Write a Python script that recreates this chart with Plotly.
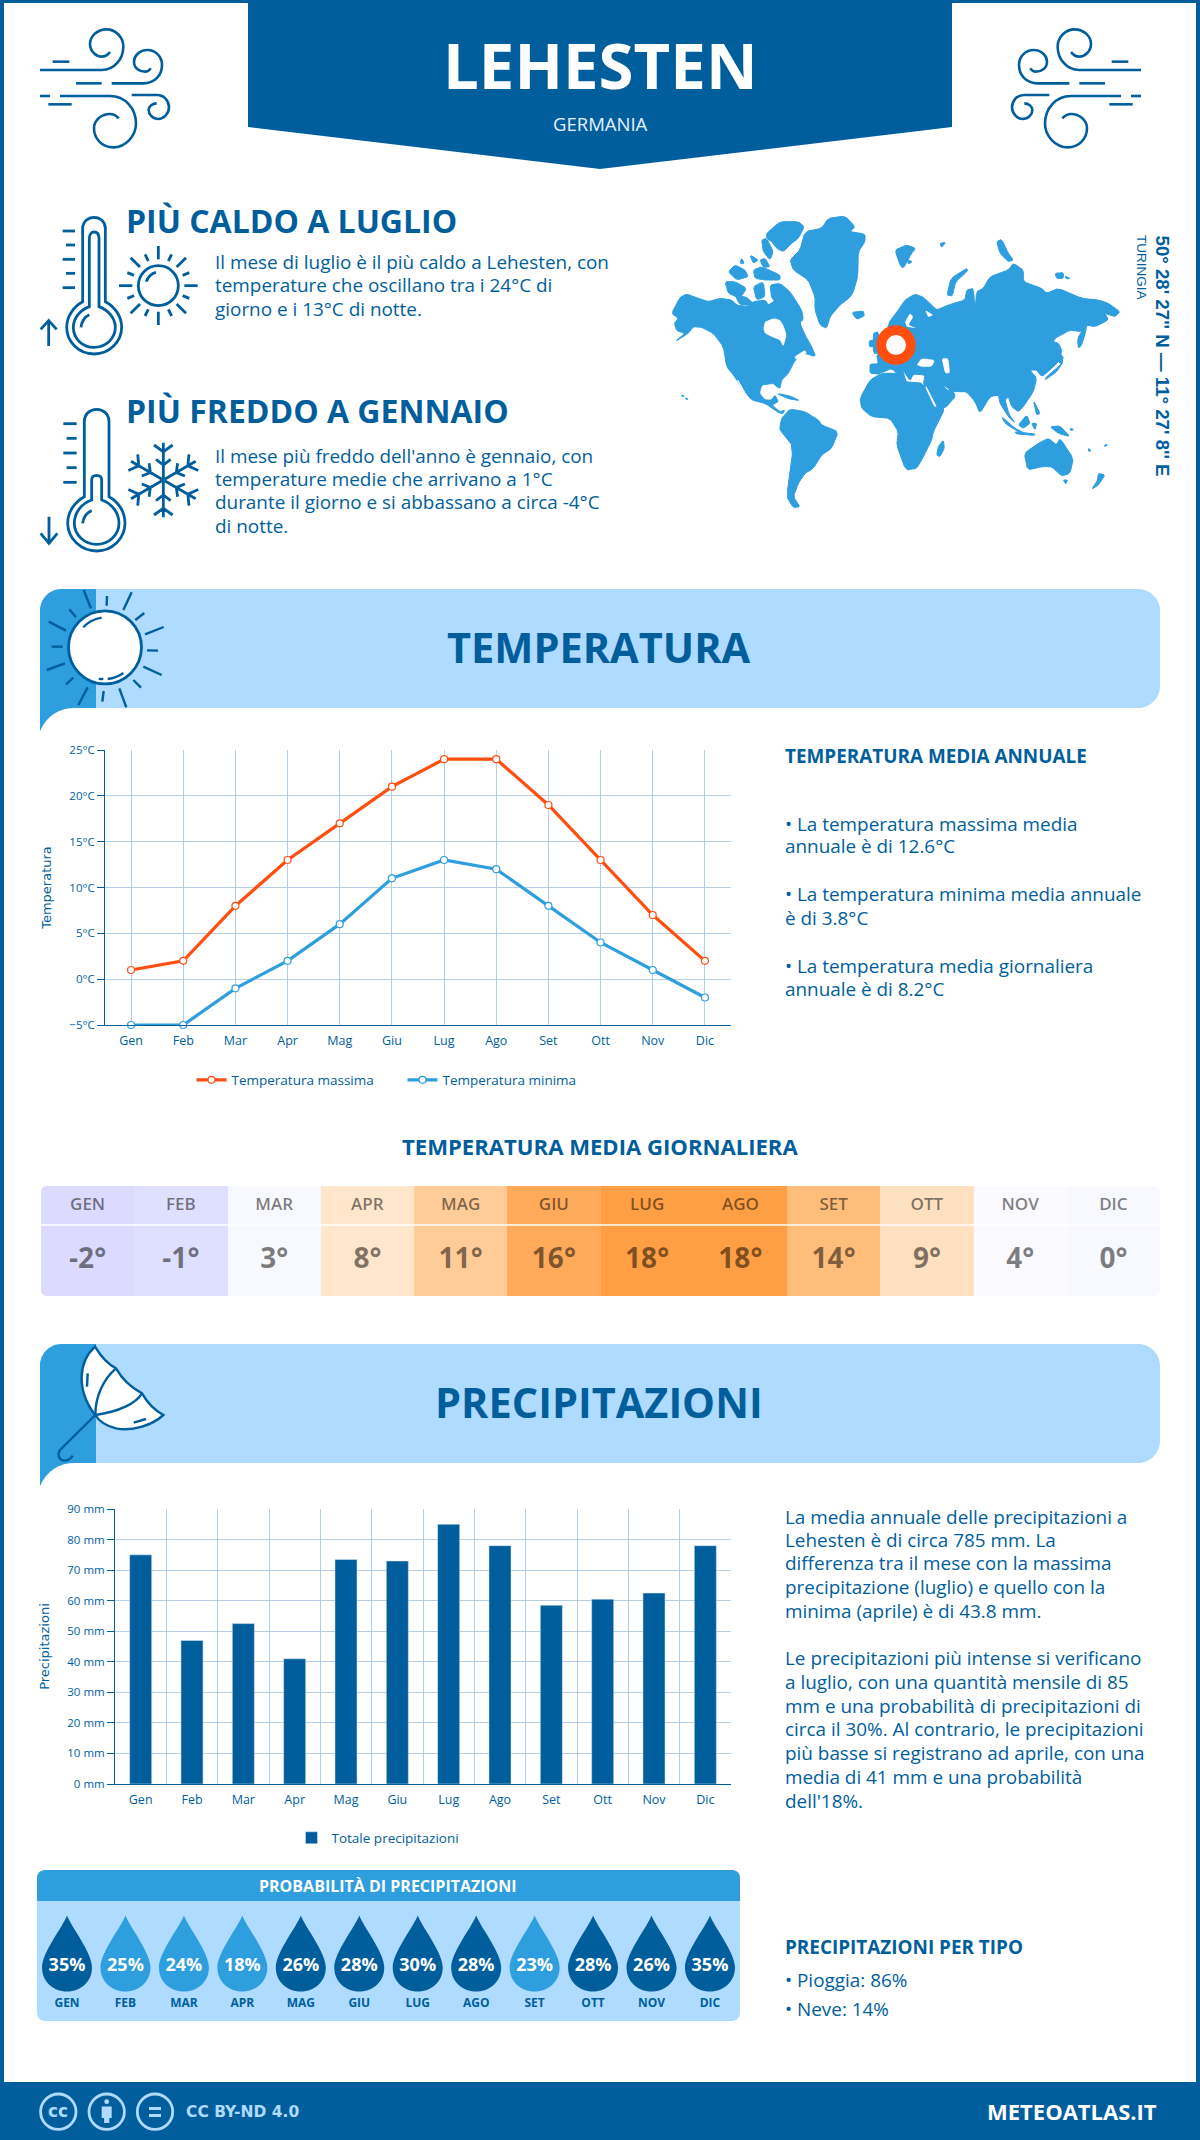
import math
import re
import plotly.graph_objects as go

# chart values
months = ["Gen", "Feb", "Mar", "Apr", "Mag", "Giu", "Lug", "Ago", "Set", "Ott", "Nov", "Dic"]
months_upper = [m.upper() for m in months]
temp_max = [1, 2, 8, 13, 17, 21, 24, 24, 19, 13, 7, 2]
temp_min = [-5, -5, -1, 2, 6, 11, 13, 12, 8, 4, 1, -2]
temp_avg = [-2, -1, 3, 8, 11, 16, 18, 18, 14, 9, 4, 0]
precip_mm = [75, 47, 52.5, 41, 73.5, 73, 85, 78, 58.5, 60.5, 62.5, 78]
precip_prob = [35, 25, 24, 18, 26, 28, 30, 28, 23, 28, 26, 35]

W, H = 1200, 2140
DARK = "#015e9c"
MID = "#2e9ede"
LIGHT = "#aedbff"
ORANGE = "#ff4e0f"
FONT = "Open Sans"
BODY = 18.9

# colours of the daily average table, by temperature
avg_stops = [(-2, "#dcdbff"), (-1, "#dfdfff"), (0, "#f8f8ff"), (3, "#f8f9ff"), (4, "#fafaff"),
             (8, "#ffe6cd"), (9, "#ffe0c0"), (11, "#ffcc99"), (14, "#ffbd7c"), (16, "#ffaa5a"), (18, "#ff9f45")]
avg_scale = [[(t + 2) / 20, c] for t, c in avg_stops]


def dom_x(a, b):
    return [a / W, b / W]


def dom_y(top, bottom):
    return [1 - bottom / H, 1 - top / H]


def zp(d, ox, oy, s=3.0, mirror=None):
    # path drawn in crop coordinates -> page pixels
    out = []
    is_x = True
    for tok in re.findall(r"[A-Za-z]|-?\d+\.?\d*", d):
        if tok.isalpha():
            out.append(tok)
            is_x = True
        else:
            v = float(tok)
            if is_x:
                v = v / s + ox
                if mirror is not None:
                    v = mirror - v
            else:
                v = v / s + oy
            out.append(f"{v:.2f}")
            is_x = not is_x
    return " ".join(out)


def rounded(x0, y0, x1, y1, r, tl=True, tr=True, br=True, bl=True):
    k = r * 0.45
    d = f"M {x0 + (r if tl else 0)} {y0} L {x1 - (r if tr else 0)} {y0} "
    if tr:
        d += f"C {x1 - k} {y0} {x1} {y0 + k} {x1} {y0 + r} "
    d += f"L {x1} {y1 - (r if br else 0)} "
    if br:
        d += f"C {x1} {y1 - k} {x1 - k} {y1} {x1 - r} {y1} "
    d += f"L {x0 + (r if bl else 0)} {y1} "
    if bl:
        d += f"C {x0 + k} {y1} {x0} {y1 - k} {x0} {y1 - r} "
    d += f"L {x0} {y0 + (r if tl else 0)} "
    if tl:
        d += f"C {x0} {y0 + k} {x0 + k} {y0} {x0 + r} {y0} "
    return d + "Z"


def smooth(poly, t=0.15):
    # cut the corners so traced coasts do not look like straight segments
    pts = []
    n = len(poly)
    for i in range(n):
        x0, y0 = poly[i]
        x1, y1 = poly[(i + 1) % n]
        pts.append((x0 + (x1 - x0) * t, y0 + (y1 - y0) * t))
        pts.append((x1 - (x1 - x0) * t, y1 - (y1 - y0) * t))
    return pts


shapes = []
annotations = []


def fill(d, color, layer="above", edge=0):
    line = dict(width=edge, color=color) if edge else dict(width=0)
    shapes.append(dict(type="path", path=d, xref="x", yref="y", fillcolor=color, line=line, layer=layer))


def stroke(d, color=DARK, width=3.0, fillcolor=None, layer="above"):
    s = dict(type="path", path=d, xref="x", yref="y", line=dict(color=color, width=width), layer=layer)
    if fillcolor:
        s["fillcolor"] = fillcolor
    shapes.append(s)


def circle(cx, cy, r, color=DARK, width=3.0, fillcolor=None):
    s = dict(type="circle", x0=cx - r, x1=cx + r, y0=cy - r, y1=cy + r, xref="x", yref="y",
             line=dict(color=color, width=width))
    if fillcolor:
        s["fillcolor"] = fillcolor
    shapes.append(s)


def txt(x, y, text, size, color=DARK, weight=400, anchor="left", family=FONT, angle=0):
    if anchor == "left":
        x -= 2
    annotations.append(dict(x=x, y=y - 1, xref="x", yref="y", text=text, showarrow=False, xanchor=anchor,
                            yanchor="middle", textangle=angle,
                            font=dict(family=family, size=size, color=color, weight=weight)))


# page frame, header, footer
fill(f"M 0 0 H {W} V {H} H 0 Z M 4 3 V {H} H {W - 4} V 3 Z", DARK, "below")
fill("M 248 0 H 952 V 127 L 600 169 L 248 127 Z", DARK, "below")
fill(f"M 0 2082 H {W} V {H} H 0 Z", DARK, "below")
txt(600, 65, "LEHESTEN", 63.5, "#ffffff", 700, "center")
txt(600, 124, "GERMANIA", 18.5, "#e6f3ff", 400, "center")

# wind icons
wind = [
    "M 30 150 L 215 150 C 255 150 280 115 280 80 C 280 50 255 28 230 28 C 200 28 180 50 180 72 C 180 95 200 110 215 110 C 225 110 235 103 240 96",
    "M 68 125 L 118 125", "M 138 190 L 215 190",
    "M 245 190 L 340 190 C 375 190 396 165 396 135 C 396 108 375 90 352 90 C 328 90 312 108 312 125 C 312 145 330 155 345 155 C 352 155 360 150 362 145",
    "M 30 228 L 60 228",
    "M 90 228 L 240 228 C 285 228 318 265 318 310 C 318 350 285 382 250 382 C 215 382 192 355 192 325 C 192 300 215 282 240 282 C 250 282 260 288 266 295",
    "M 55 253 L 125 253",
    "M 305 225 L 380 225 C 405 225 417 245 417 262 C 417 282 400 297 385 297 C 368 297 356 283 356 270 C 356 258 368 250 380 250",
]
for d in wind:
    stroke(zp(d, 30, 20), width=2.6)
    stroke(zp(d, 30, 20, mirror=1181), width=2.6)

# hot block
txt(126, 221, "PIÙ CALDO A LUGLIO", 32, DARK, 700)
for y, line in zip([263, 286, 310], ["Il mese di luglio è il più caldo a Lehesten, con",
                                     "temperature che oscillano tra i 24°C di",
                                     "giorno e i 13°C di notte."]):
    txt(215, y, line, BODY)
thermo_hot = [
    "M 158 275 L 158 55 C 158 35 175 22 192 22 C 210 22 226 35 226 55 L 226 275 C 255 290 275 320 275 352 C 275 395 238 432 192 432 C 146 432 110 395 110 352 C 110 320 130 290 158 275 Z",
    "M 178 290 L 178 85 C 178 72 185 66 192 66 C 200 66 207 72 207 85 L 207 290 C 235 300 256 325 256 352 C 256 385 228 412 192 412 C 156 412 130 385 130 352 C 130 325 150 300 178 290 Z",
    "M 153 352 C 155 335 165 320 178 314",
    "M 98 63 L 135 63", "M 108 105 L 135 105", "M 98 148 L 135 148", "M 108 190 L 135 190", "M 98 233 L 135 233",
    "M 56 408 L 56 332 M 32 358 L 56 332 L 80 358",
    "M 349 215 C 352 202 365 190 378 187",
    "M 385 108 L 385 148", "M 385 305 L 385 345", "M 267 227 L 307 227", "M 463 227 L 503 227",
    "M 302 143 L 330 171", "M 468 143 L 440 171", "M 302 310 L 330 282", "M 468 310 L 440 282",
    "M 345 133 L 355 153", "M 425 133 L 415 153", "M 292 188 L 312 196", "M 478 188 L 458 196",
    "M 292 265 L 312 257", "M 478 265 L 458 257", "M 345 318 L 355 298", "M 425 318 L 415 298",
]
for d in thermo_hot:
    stroke(zp(d, 30, 210), width=2.8)
circle(30 + 385 / 3, 210 + 227 / 3, 20, width=2.8)

# cold block
txt(126, 411, "PIÙ FREDDO A GENNAIO", 32, DARK, 700)
for y, line in zip([457, 480, 503, 527], ["Il mese più freddo dell'anno è gennaio, con",
                                          "temperature medie che arrivano a 1°C",
                                          "durante il giorno e si abbassano a circa -4°C",
                                          "di notte."]):
    txt(215, y, line, BODY)
thermo_cold = [
    "M 163 290 L 163 65 C 163 42 180 28 200 28 C 220 28 237 42 237 65 L 237 290 C 265 305 285 335 285 370 C 285 415 247 453 200 453 C 153 453 113 415 113 370 C 113 335 135 305 163 290 Z",
    "M 185 300 L 185 240 C 185 230 192 226 200 226 C 208 226 215 230 215 240 L 215 300 C 245 310 267 338 267 370 C 267 405 236 433 200 433 C 164 433 133 405 133 370 C 133 338 155 310 185 300 Z",
    "M 158 370 C 160 352 170 338 185 332",
    "M 100 71 L 140 71", "M 110 115 L 140 115", "M 100 159 L 140 159", "M 110 203 L 140 203", "M 100 247 L 140 247",
    "M 57 350 L 57 430 M 32 400 L 57 430 L 82 400",
]
for d in thermo_cold:
    stroke(zp(d, 30, 400), width=2.8)
# snowflake arms
for k in range(6):
    a = math.radians(60 * k)
    ca, sa = math.cos(a), math.sin(a)

    def rot(px, py):
        return f"{400 + px * ca - py * sa:.1f} {240 + px * sa + py * ca:.1f}"

    arm = f"M {rot(0, 0)} L {rot(0, -112)} M {rot(-28, -105)} L {rot(0, -85)} L {rot(28, -105)} M {rot(-22, -62)} L {rot(0, -45)} L {rot(22, -62)}"
    stroke(zp(arm, 30, 400), width=2.8)

# world map, in crop coordinates
land = [
    # North America
    [(20,310),(45,262),(65,252),(100,265),(130,275),(165,265),(200,270),(215,285),(245,290),(265,275),(300,270),(310,285),(330,272),(345,285),(360,275),(385,285),(410,310),(405,340),(420,375),(440,410),(452,440),(420,430),(390,450),(370,490),(350,510),(345,535),(335,530),(325,520),(290,525),(283,550),(300,570),(320,570),(330,555),(340,575),(320,585),(345,605),(360,600),(352,612),(340,607),(300,580),(260,570),(235,540),(205,495),(185,470),(175,410),(145,370),(110,352),(85,350),(70,370),(30,395),(60,370),(35,362),(28,340),(40,325)],
    # Arctic islands
    [(305,70),(345,35),(400,35),(418,50),(400,85),(380,100),(355,125),(335,115),(320,95),(305,85)],
    [(290,90),(305,85),(325,125),(315,150),(295,125)],
    [(315,225),(345,220),(375,245),(410,300),(415,330),(395,340),(375,295),(345,285),(320,265)],
    [(180,215),(210,215),(245,235),(225,265),(190,250)],
    [(190,185),(210,165),(240,180),(250,200),(215,210)],
    [(265,230),(295,215),(300,260),(275,270)],
    [(265,180),(290,170),(345,195),(345,210),(300,210),(270,205)],
    [(230,145),(238,160),(225,160)],
    [(255,135),(280,150),(265,160)],
    [(210,255),(245,262),(270,285),(225,285)],
    [(285,150),(300,145),(315,170),(295,172)],
    # Greenland, Iceland, Svalbard and northern islands
    [(375,150),(405,120),(420,65),(470,55),(490,25),(540,18),(570,50),(555,65),(600,72),(600,95),(580,125),(578,200),(565,245),(555,262),(525,285),(495,320),(485,355),(465,345),(450,300),(450,260),(430,210),(385,180)],
    [(560,307),(595,303),(598,318),(575,328)],
    [(690,120),(725,105),(752,115),(740,130),(715,175),(705,165)],
    [(825,100),(842,97),(830,112)],
    [(728,150),(742,155),(730,162)],
    [(995,95),(1010,88),(1030,130),(1045,150),(1030,155),(1005,130)],
    [(1170,190),(1195,188),(1195,205),(1175,205)],
    [(1200,198),(1215,205),(1205,207)],
    [(846,255),(858,205),(905,175),(908,183),(872,215),(862,258)],
    # British Isles
    [(625,370),(640,365),(645,430),(625,430)],
    [(613,392),(628,390),(625,410),(613,410)],
    # Eurasia
    [(670,340),(700,300),(720,270),(750,252),(775,262),(800,285),(815,300),(850,285),(900,270),(905,240),(925,235),(930,300),(935,245),(955,235),(975,200),(1030,180),(1045,160),(1075,180),(1075,215),(1130,235),(1145,250),(1180,235),(1250,265),(1300,270),(1330,280),(1365,305),(1350,320),(1320,310),(1330,330),(1290,350),(1265,345),(1250,365),(1215,360),(1170,385),(1165,395),(1180,400),(1190,420),(1185,450),(1155,480),(1130,500),(1115,480),(1095,480),(1115,505),(1105,545),(1075,590),(1060,605),(1040,590),(1030,560),(1020,570),(1032,612),(1050,640),(1030,620),(1005,580),(1000,555),(975,560),(945,610),(930,575),(905,545),(870,545),(845,540),(832,522),(875,555),(840,595),(815,590),(775,525),(780,495),(745,492),(735,512),(720,490),(712,478),(725,520),(710,505),(680,475),(650,488),(640,492),(615,490),(615,462),(640,462),(635,435),(660,420)],
    # Japan and Kamchatka side
    [(1140,510),(1175,485),(1195,455),(1180,470),(1145,500)],
    [(1180,430),(1195,440),(1190,462),(1180,455)],
    [(1238,385),(1265,340),(1262,365),(1250,405),(1240,415)],
    # South-east Asia
    [(1010,620),(1050,655),(1080,670),(1060,665),(1020,640)],
    [(1050,665),(1110,672),(1108,676),(1055,672)],
    [(1060,645),(1085,615),(1095,640),(1075,655)],
    [(1100,640),(1115,640),(1110,660)],
    [(1105,570),(1125,610),(1115,615)],
    [(1155,650),(1185,648),(1215,680),(1180,670)],
    [(1215,655),(1226,658),(1218,662)],
    [(1270,715),(1279,722),(1271,724)],
    [(1318,705),(1328,704),(1320,710)],
    # Australia and New Zealand
    [(1078,730),(1120,700),(1150,685),(1175,705),(1185,685),(1225,745),(1215,790),(1190,798),(1160,770),(1130,770),(1088,780)],
    [(1195,810),(1208,810),(1202,822)],
    [(1300,790),(1320,795),(1300,825),(1280,838),(1298,810)],
    # Africa
    [(585,565),(615,510),(650,490),(700,490),(720,515),(775,520),(810,590),(840,595),(805,665),(800,690),(770,750),(755,775),(722,780),(695,705),(700,665),(675,625),(620,620),(590,595)],
    [(835,690),(838,715),(825,740),(815,735),(820,710)],
    # South America
    [(345,650),(350,625),(375,597),(420,605),(460,630),(470,645),(520,665),(500,715),(470,735),(445,775),(420,790),(400,820),(385,860),(405,890),(385,893),(365,860),(385,710),(345,660)],
    # Caribbean and small dots
    [(335,550),(375,558),(405,572),(370,566)],
    [(50,555),(58,558),(52,560)],
    [(62,563),(70,568),(63,568)],
]
water = [
    [(295,355),(300,335),(325,325),(345,330),(355,345),(365,375),(355,410),(345,390),(320,380),(300,370)],
    [(735,310),(745,320),(730,345),(755,355),(725,350),(720,335)],
    [(780,300),(805,315),(790,322)],
    [(755,465),(770,445),(810,450),(800,470),(770,470)],
    [(830,445),(850,445),(855,490),(840,490)],
    [(780,530),(785,530),(815,590),(808,590)],
    [(215,510),(220,510),(245,555),(240,555)],
    [(388,440),(420,420),(425,430),(395,450)],
]
for poly in land:
    fill(zp("M " + " L ".join(f"{x:.1f} {y:.1f}" for x, y in smooth(poly)) + " Z", 665, 210), MID, edge=1)
for poly in water:
    fill(zp("M " + " L ".join(f"{x:.1f} {y:.1f}" for x, y in smooth(poly)) + " Z", 665, 210), "#ffffff")
circle(896, 345, 14.85, ORANGE, 9.7, "#ffffff")
txt(1162, 356.5, "50° 28' 27'' N — 11° 27' 8'' E", 18.7, DARK, 700, "center", "Liberation Sans", 90)
txt(1142, 268, "TURINGIA", 13.5, DARK, 400, "center", "Liberation Sans", 90)


def section_band(top, title):
    bottom = top + 119
    fill(rounded(40, top, 1160, bottom, 22), LIGHT, "below")
    fill(f"M 40 {bottom + 23} C 47 {bottom + 7} 60 {bottom} 75 {bottom} L 96 {bottom} L 96 {top} L 62 {top} "
         f"C 48 {top} 40 {top + 11} 40 {top + 22} Z", MID, "below")
    txt(599, top + 59, title, 41.5, DARK, 700, "center")


# temperature band and its sun
section_band(589, "TEMPERATURA")
circle(36 + 207 / 3, 585 + 187 / 3, 36.5, DARK, 2.8, "#ffffff")
sun_parts = [
    "M 142 127 C 155 112 175 102 197 98", "M 188 282 L 202 282", "M 215 282 C 232 280 250 273 262 264",
    "M 165 70 L 143 15", "M 120 97 L 100 73", "M 90 137 L 38 110", "M 80 185 L 47 185", "M 87 235 L 32 255",
    "M 112 278 L 90 298", "M 155 307 L 127 360", "M 203 318 L 199 350", "M 250 310 L 271 367", "M 292 285 L 315 308",
    "M 322 245 L 377 270", "M 333 196 L 366 197", "M 327 148 L 383 126", "M 298 105 L 325 84", "M 262 75 L 287 22",
    "M 212 62 L 213 33",
]
for d in sun_parts:
    stroke(zp(d, 36, 585), width=2.4)

txt(785, 757, "TEMPERATURA MEDIA ANNUALE", BODY, DARK, 700)
for y, line in zip([825, 847, 895, 919, 967, 990], ["• La temperatura massima media", "annuale è di 12.6°C",
                                                    "• La temperatura minima media annuale", "è di 3.8°C",
                                                    "• La temperatura media giornaliera", "annuale è di 8.2°C"]):
    txt(785, y, line, BODY)

txt(600, 1147, "TEMPERATURA MEDIA GIORNALIERA", 22.1, DARK, 700, "center")

# precipitation band and its umbrella
section_band(1344, "PRECIPITAZIONI")
stroke(zp("M 177 20 C 195 50 215 72 240 85 C 260 120 290 145 318 160 C 335 190 355 210 382 225 C 350 255 290 275 240 265 "
          "C 210 258 190 245 178 225 C 160 205 135 160 137 110 C 138 70 155 40 177 20 Z", 36, 1340),
       width=2.4, fillcolor="#ffffff")
for d in ["M 240 85 C 205 115 178 165 178 225", "M 318 160 C 300 190 250 215 178 225", "M 155 100 L 153 140",
          "M 293 248 L 330 237", "M 178 225 L 72 330 C 62 345 70 360 85 362 C 97 362 105 355 110 347"]:
    stroke(zp(d, 36, 1340), width=2.4)

for y, line in zip([1517.5, 1540.5, 1564, 1588, 1612],
                   ["La media annuale delle precipitazioni a", "Lehesten è di circa 785 mm. La",
                    "differenza tra il mese con la massima", "precipitazione (luglio) e quello con la",
                    "minima (aprile) è di 43.8 mm."]):
    txt(785, y, line, BODY)
for y, line in zip([1659, 1683, 1707, 1730, 1754, 1778, 1802],
                   ["Le precipitazioni più intense si verificano", "a luglio, con una quantità mensile di 85",
                    "mm e una probabilità di precipitazioni di", "circa il 30%. Al contrario, le precipitazioni",
                    "più basse si registrano ad aprile, con una", "media di 41 mm e una probabilità",
                    "dell'18%."]):
    txt(785, y, line, BODY)

# probability panel
fill(rounded(37, 1870, 740, 2021, 8), LIGHT, "below")
fill(rounded(37, 1870, 740, 1901, 8, br=False, bl=False), MID, "below")
txt(388, 1887, "PROBABILITÀ DI PRECIPITAZIONI", 16, "#ffffff", 700, "center")

txt(785, 1948, "PRECIPITAZIONI PER TIPO", BODY, DARK, 700)
txt(785, 1981, "• Pioggia: 86%", BODY)
txt(785, 2010, "• Neve: 14%", BODY)

# footer icons
for cx in [58.3, 106.7, 155]:
    circle(cx, 2111.7, 17.7, LIGHT, 2.8)
txt(58.3, 2112, "cc", 17, LIGHT, 700, "center", "DejaVu Sans")
circle(106.7, 2101.7, 2.4, LIGHT, 0, LIGHT)
fill("M 101.7 2106.5 H 111.7 V 2118 H 109.3 V 2123 H 104.1 V 2118 H 101.7 Z", LIGHT)
fill("M 149 2107 H 161 V 2110 H 149 Z M 149 2114 H 161 V 2117 H 149 Z", LIGHT)
txt(185.5, 2112.5, "CC BY-ND 4.0", 15.5, LIGHT, 700, "left", "DejaVu Sans")
txt(1159, 2112, "METEOATLAS.IT", 22, "#ffffff", 700, "right")

fig = go.Figure()

# temperature chart
fig.add_trace(go.Scatter(x=months, y=temp_max, name="Temperatura massima", mode="lines+markers",
                         xaxis="x2", yaxis="y2", legend="legend", cliponaxis=False,
                         line=dict(color=ORANGE, width=3.2),
                         marker=dict(size=7, color="#ffffff", line=dict(color=ORANGE, width=1.2))))
fig.add_trace(go.Scatter(x=months, y=temp_min, name="Temperatura minima", mode="lines+markers",
                         xaxis="x2", yaxis="y2", legend="legend", cliponaxis=False,
                         line=dict(color=MID, width=3.2),
                         marker=dict(size=7, color="#ffffff", line=dict(color=MID, width=1.2))))

# precipitation chart
fig.add_trace(go.Bar(x=months, y=precip_mm, name="Totale precipitazioni", marker_color=DARK,
                     xaxis="x3", yaxis="y3", legend="legend2"))

# daily average table
fig.add_trace(go.Heatmap(z=[temp_avg], x=months_upper, y=[0.5], dy=1, xaxis="x4", yaxis="y4",
                         colorscale=avg_scale, zmin=-2, zmax=18, showscale=False, hoverinfo="skip", xgap=0))
fig.add_trace(go.Scatter(x=months_upper, y=[(1296 - 1205.7) / 110] * 12, text=months_upper, mode="text",
                         xaxis="x4", yaxis="y4", showlegend=False,
                         textfont=dict(family=FONT, size=17, weight=600, color="rgba(0,0,0,0.5)")))
fig.add_trace(go.Scatter(x=months_upper, y=[(1296 - 1261) / 110] * 12, text=[f"{t}°" for t in temp_avg], mode="text",
                         xaxis="x4", yaxis="y4", showlegend=False,
                         textfont=dict(family=FONT, size=28, weight=700, color="rgba(0,0,0,0.5)")))

# probability drops, one shape per month on the panel's own axis
drop = "M 0 51 C 4 40 25 14 25 -1 C 25 -15 14 -25 0 -25 C -14 -25 -25 -15 -25 -1 C -25 14 -4 40 0 51 Z"
for i, p in enumerate(precip_prob):
    shapes.append(dict(type="path", path=drop, xref="x5", yref="y5", xsizemode="pixel", ysizemode="pixel",
                       xanchor=i, yanchor=0, fillcolor=DARK if p >= 26 else MID, line=dict(width=0), layer="below"))
fig.add_trace(go.Scatter(x=months_upper, y=[0] * 12, text=[f"{p}%" for p in precip_prob], mode="text",
                         xaxis="x5", yaxis="y5", showlegend=False,
                         textfont=dict(family=FONT, size=18, weight=700, color="#ffffff")))
fig.add_trace(go.Scatter(x=months_upper, y=[-37.5] * 12, text=months_upper, mode="text",
                         xaxis="x5", yaxis="y5", showlegend=False,
                         textfont=dict(family=FONT, size=12, weight=700, color=DARK)))

tick_font = dict(family=FONT, size=11.5, color=DARK)
x_tick_font = dict(family=FONT, size=12.5, color=DARK)
grid = "#b5d0e6"

fig.update_layout(
    width=W, height=H, margin=dict(l=0, r=0, t=0, b=0, autoexpand=False),
    paper_bgcolor="#ffffff", plot_bgcolor="rgba(0,0,0,0)",
    shapes=shapes, annotations=annotations, bargap=0.57, hovermode=False,
    font=dict(family=FONT, color=DARK),
    # page layer in pixels
    xaxis=dict(domain=[0, 1], range=[0, W], visible=False, fixedrange=True),
    yaxis=dict(domain=[0, 1], range=[H, 0], visible=False, fixedrange=True),
    # temperature
    xaxis2=dict(domain=dom_x(105, 731), anchor="y2", type="category", categoryarray=months, range=[-0.5, 11.5],
                showgrid=True, gridcolor=grid, showline=True, linecolor=DARK, linewidth=1,
                ticks="", tickfont=x_tick_font, ticklabelstandoff=4),
    yaxis2=dict(domain=dom_y(750, 1025), anchor="x2", range=[-5, 25], dtick=5, ticksuffix="°C",
                showgrid=True, gridcolor=grid, zeroline=False, showline=True, linecolor=DARK, linewidth=1,
                ticks="outside", ticklen=7, tickcolor=DARK, tickfont=tick_font,
                title=dict(text="Temperatura", standoff=14, font=dict(family="DejaVu Sans", size=13, color=DARK))),
    # precipitation
    xaxis3=dict(domain=dom_x(115, 731), anchor="y3", type="category", categoryarray=months, range=[-0.5, 11.5],
                tickson="boundaries", showgrid=True, gridcolor=grid, showline=True, linecolor=DARK, linewidth=1,
                ticks="", tickfont=x_tick_font, ticklabelstandoff=4),
    yaxis3=dict(domain=dom_y(1509, 1784), anchor="x3", range=[0, 90], dtick=10, ticksuffix=" mm",
                showgrid=True, gridcolor=grid, zeroline=False, showline=True, linecolor=DARK, linewidth=1,
                ticks="outside", ticklen=7, tickcolor=DARK, tickfont=tick_font,
                title=dict(text="Precipitazioni", standoff=14, font=dict(family="DejaVu Sans", size=13, color=DARK))),
    # daily average table
    xaxis4=dict(domain=dom_x(41, 1160), anchor="y4", type="category", categoryarray=months_upper,
                range=[-0.5, 11.5], visible=False),
    yaxis4=dict(domain=dom_y(1186, 1296), anchor="x4", range=[0, 1], visible=False),
    # probability drops, y in pixels around the drop centre
    xaxis5=dict(domain=dom_x(37.8, 739.2), anchor="y5", type="category", categoryarray=months_upper,
                range=[-0.5, 11.5], visible=False),
    yaxis5=dict(domain=dom_y(1870, 2021), anchor="x5", range=[-54.5, 96.5], visible=False),
    legend=dict(orientation="h", x=(196 + 579) / 2 / W + 15 / W, xanchor="center", y=1 - 1080 / H, yanchor="middle",
                font=dict(family=FONT, size=13.5, color=DARK), bgcolor="rgba(0,0,0,0)", itemclick=False,
                entrywidth=166, entrywidthmode="pixels"),
    legend2=dict(orientation="h", x=378 / W, xanchor="center", y=1 - 1838 / H, yanchor="middle",
                 font=dict(family=FONT, size=13.5, color=DARK), bgcolor="rgba(0,0,0,0)", itemclick=False),
)

# white rule under the month row and rounded corners of the table
fig.add_shape(type="line", x0=41, x1=1160, y0=1225, y1=1225, xref="x", yref="y", line=dict(color="#ffffff", width=1.5))
for d in ["M 41 1186 H 47 C 43.5 1186 41 1188.5 41 1192 Z", "M 1160 1186 H 1154 C 1157.5 1186 1160 1188.5 1160 1192 Z",
          "M 41 1296 H 47 C 43.5 1296 41 1293.5 41 1290 Z", "M 1160 1296 H 1154 C 1157.5 1296 1160 1293.5 1160 1290 Z"]:
    fig.add_shape(type="path", path=d, xref="x", yref="y", fillcolor="#ffffff", line=dict(width=0))

fig.write_html("out.html", config={"displayModeBar": False}, post_script="document.body.style.margin='0';")
